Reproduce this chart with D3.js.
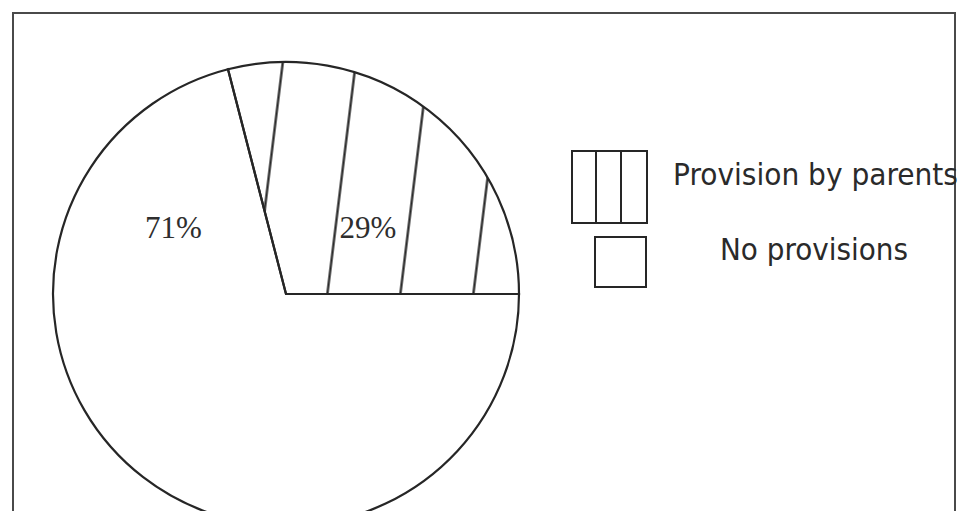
<!DOCTYPE html>
<html>
<head>
<meta charset="utf-8">
<script src="https://cdn.jsdelivr.net/npm/d3@7"></script>
<style>
  html, body { margin: 0; padding: 0; background: #fff; }
  svg { display: block; }
</style>
</head>
<body>
<svg id="chart" width="962" height="511"></svg>
<script>
// Shares of respondents by provision type
const categories = ["Provision by parents", "No provisions"];
const shares = [29, 71];
const shareLabels = ["29%", "71%"];

const W = 962, H = 511;
const ink = "#262626";
const svg = d3.select("#chart");

// outer frame (bottom edge runs past the page)
svg.append("rect")
  .attr("x", 13).attr("y", 13)
  .attr("width", 942).attr("height", 520)
  .attr("fill", "none").attr("stroke", "#4a4a4a").attr("stroke-width", 2);

// pie geometry: unit arcs scaled into a slightly oval outline
const cx = 286, cy = 294, rx = 233, ry = 232;
const total = d3.sum(shares);
const start = Math.PI / 2 - (shares[0] / total) * 2 * Math.PI; // first slice ends at 3 o'clock
const pie = d3.pie().sort(null).value(d => d)
  .startAngle(start).endAngle(start + 2 * Math.PI);
const arcs = pie(shares);
const arc = d3.arc().innerRadius(0).outerRadius(1);
const pieTransform = `translate(${cx},${cy}) scale(${rx},${ry})`;

// hatch pattern for the "provision" slice
const defs = svg.append("defs");
const gap = 73, tilt = 7;
const cellW = gap * Math.cos(tilt * Math.PI / 180);
const pat = defs.append("pattern")
  .attr("id", "hatch")
  .attr("patternUnits", "userSpaceOnUse")
  .attr("width", cellW)
  .attr("height", 40)
  .attr("patternTransform", `translate(327,297) rotate(${tilt}) translate(${-cellW / 2},0)`);
pat.append("line")
  .attr("x1", cellW / 2).attr("x2", cellW / 2)
  .attr("y1", -2).attr("y2", 42)
  .attr("stroke", ink).attr("stroke-width", 2.3);

defs.append("clipPath").attr("id", "slice0")
  .append("path")
  .attr("d", arc(arcs[0]))
  .attr("transform", pieTransform);

const gPie = svg.append("g");
gPie.selectAll("path.fill")
  .data(arcs).join("path")
  .attr("class", "fill")
  .attr("d", arc)
  .attr("transform", pieTransform)
  .attr("fill", "#fff");

gPie.append("rect")
  .attr("x", 0).attr("y", 0).attr("width", W).attr("height", H)
  .attr("fill", "url(#hatch)")
  .attr("clip-path", "url(#slice0)");

gPie.selectAll("path.edge")
  .data(arcs).join("path")
  .attr("class", "edge")
  .attr("d", arc)
  .attr("transform", pieTransform)
  .attr("fill", "none")
  .attr("stroke", ink)
  .attr("stroke-width", 2.2)
  .attr("vector-effect", "non-scaling-stroke")
  .attr("stroke-linejoin", "miter");

// percentage labels, placed by angle (clockwise from 12 o'clock) and distance from the centre
const labelSpots = [{ a: 50.7, r: 106 }, { a: -59.3, r: 131 }];
svg.append("g").selectAll("text")
  .data(shareLabels).join("text")
  .attr("x", (d, i) => cx + labelSpots[i].r * Math.sin(labelSpots[i].a * Math.PI / 180))
  .attr("y", (d, i) => cy - labelSpots[i].r * Math.cos(labelSpots[i].a * Math.PI / 180) + 11)
  .attr("text-anchor", "middle")
  .attr("font-family", "'Liberation Serif', 'Times New Roman', serif")
  .attr("font-size", 31)
  .attr("fill", "#2e2e2e")
  .text(d => d);

// legend
const lg = svg.append("g");
// hatched key: three vertical strips
const key1 = { x: 572, y: 151, w: 75, h: 72 };
lg.append("rect")
  .attr("x", key1.x).attr("y", key1.y).attr("width", key1.w).attr("height", key1.h)
  .attr("fill", "#fff").attr("stroke", ink).attr("stroke-width", 2);
[1, 2].forEach(k => {
  const x = key1.x + k * key1.w / 3 - 1;
  lg.append("line")
    .attr("x1", x).attr("x2", x).attr("y1", key1.y).attr("y2", key1.y + key1.h)
    .attr("stroke", ink).attr("stroke-width", 2);
});
// plain key
const key2 = { x: 595, y: 237, w: 51, h: 50 };
lg.append("rect")
  .attr("x", key2.x).attr("y", key2.y).attr("width", key2.w).attr("height", key2.h)
  .attr("fill", "#fff").attr("stroke", ink).attr("stroke-width", 2);

const legendText = [
  { x: 673, y: 185, len: 285 },
  { x: 720, y: 260, len: 188 }
];
lg.selectAll("text")
  .data(categories).join("text")
  .attr("x", (d, i) => legendText[i].x)
  .attr("y", (d, i) => legendText[i].y)
  .attr("font-family", "'DejaVu Sans Condensed', 'DejaVu Sans', Verdana, sans-serif")
  .attr("font-size", 31)
  .attr("fill", "#2a2a2a")
  .attr("textLength", (d, i) => legendText[i].len)
  .attr("lengthAdjust", "spacingAndGlyphs")
  .text(d => d);
</script>
</body>
</html>
